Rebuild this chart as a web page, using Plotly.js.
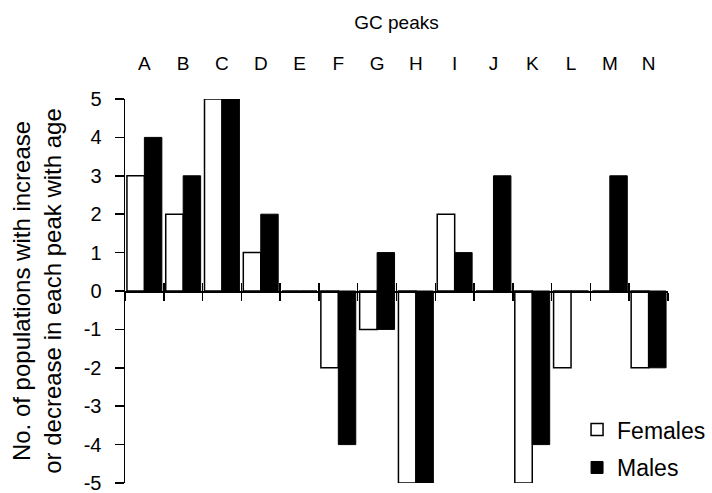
<!DOCTYPE html>
<html>
<head>
<meta charset="utf-8">
<script src="https://cdn.plot.ly/plotly-3.0.1.min.js"></script>
<style>
  html, body { margin: 0; padding: 0; background: #fff; }
  #chart { width: 712px; height: 493px; }
</style>
</head>
<body>
<div id="chart"></div>
<script>
// GC peaks and the number of populations whose peak rises (+) or falls (-) with age
const peaks = ['A', 'B', 'C', 'D', 'E', 'F', 'G', 'H', 'I', 'J', 'K', 'L', 'M', 'N'];
const females = [3, 2, 5, 1, 0, -2, -1, -5, 2, 0, -5, -2, 0, -2];
// male bars run from malesStart to malesEnd (G spans both directions)
const malesStart = [0, 0, 0, 0, 0, 0, -1, 0, 0, 0, 0, 0, 0, 0];
const malesEnd = [4, 3, 5, 2, 0, -4, 1, -5, 1, 3, -4, 0, 3, -2];
const yTicks = [5, 4, 3, 2, 1, 0, -1, -2, -3, -4, -5];
const yTickText = yTicks.map(v => String(v));

const FONT = 'Liberation Sans, Arial, sans-serif';
const maleSpan = malesEnd.map((v, i) => v - malesStart[i]);

const traces = [
  {
    type: 'bar', name: 'Females', x: peaks, y: females, legendgroup: 'f',
    marker: { color: '#ffffff', line: { color: '#000000', width: 1.5 } },
    xaxis: 'x', yaxis: 'y'
  },
  {
    type: 'bar', name: 'Males', x: peaks, y: maleSpan, base: malesStart, legendgroup: 'm',
    marker: { color: '#000000', line: { color: '#000000', width: 1 } },
    xaxis: 'x', yaxis: 'y'
  },
  // carries the category labels along the top
  { type: 'scatter', mode: 'none', x: peaks, y: peaks.map(() => 0),
    xaxis: 'x2', yaxis: 'y', showlegend: false, hoverinfo: 'skip' },
  // upward half of the crossing ticks on the zero axis
  { type: 'scatter', mode: 'none', x: peaks, y: peaks.map(() => 0),
    xaxis: 'x3', yaxis: 'y', showlegend: false, hoverinfo: 'skip' }
];

const catAxis = {
  type: 'category', categoryarray: peaks, range: [-0.5, peaks.length - 0.5],
  fixedrange: true, showgrid: false, zeroline: false
};

const layout = {
  width: 712, height: 493,
  margin: { l: 125, r: 44, t: 99, b: 10, autoexpand: false },
  paper_bgcolor: '#ffffff', plot_bgcolor: '#ffffff',
  font: { family: FONT, size: 19, color: '#000000' },
  showlegend: true,
  barmode: 'group', bargap: 0.1, bargroupgap: 0,
  title: {
    text: 'GC peaks', x: 0.5, xref: 'paper', y: 0.955, yref: 'container',
    xanchor: 'center', yanchor: 'middle', font: { family: FONT, size: 19, color: '#000' }
  },
  xaxis: Object.assign({}, catAxis, {
    anchor: 'free', position: 0.5, showline: true, linecolor: '#000', linewidth: 1.5,
    ticks: 'outside', tickson: 'boundaries', ticklen: 8, tickwidth: 1.5, tickcolor: '#000',
    showticklabels: false
  }),
  xaxis3: Object.assign({}, catAxis, {
    overlaying: 'x', anchor: 'free', position: 0.5, showline: false,
    ticks: 'inside', tickson: 'boundaries', ticklen: 8, tickwidth: 1.5, tickcolor: '#000',
    showticklabels: false
  }),
  xaxis2: Object.assign({}, catAxis, {
    overlaying: 'x', side: 'top', anchor: 'y', showline: false, ticks: '',
    showticklabels: true, ticklabelstandoff: 24,
    tickfont: { family: FONT, size: 19, color: '#000' }
  }),
  yaxis: {
    range: [-5, 5], fixedrange: true, showgrid: false, zeroline: false,
    showline: true, linecolor: '#000', linewidth: 1.5,
    ticks: 'outside', ticklen: 9, tickwidth: 1.5, tickcolor: '#000',
    tickvals: yTicks, ticktext: yTickText, ticklabelstandoff: 9,
    ticklabeloverflow: 'allow',
    tickfont: { family: FONT, size: 20, color: '#000' },
    title: {
      text: 'No. of populations with increase<br>or decrease in each peak with age',
      font: { family: FONT, size: 24, color: '#000' }, standoff: 15
    }
  },
  legend: {
    x: 0.8325, y: 0.195, xanchor: 'left', yanchor: 'top',
    bgcolor: 'rgba(0,0,0,0)', borderwidth: 0, tracegroupgap: 5,
    font: { family: FONT, size: 23, color: '#000' }, itemwidth: 30
  }
};

Plotly.newPlot('chart', traces, layout, { staticPlot: true, displayModeBar: false });
</script>
</body>
</html>
